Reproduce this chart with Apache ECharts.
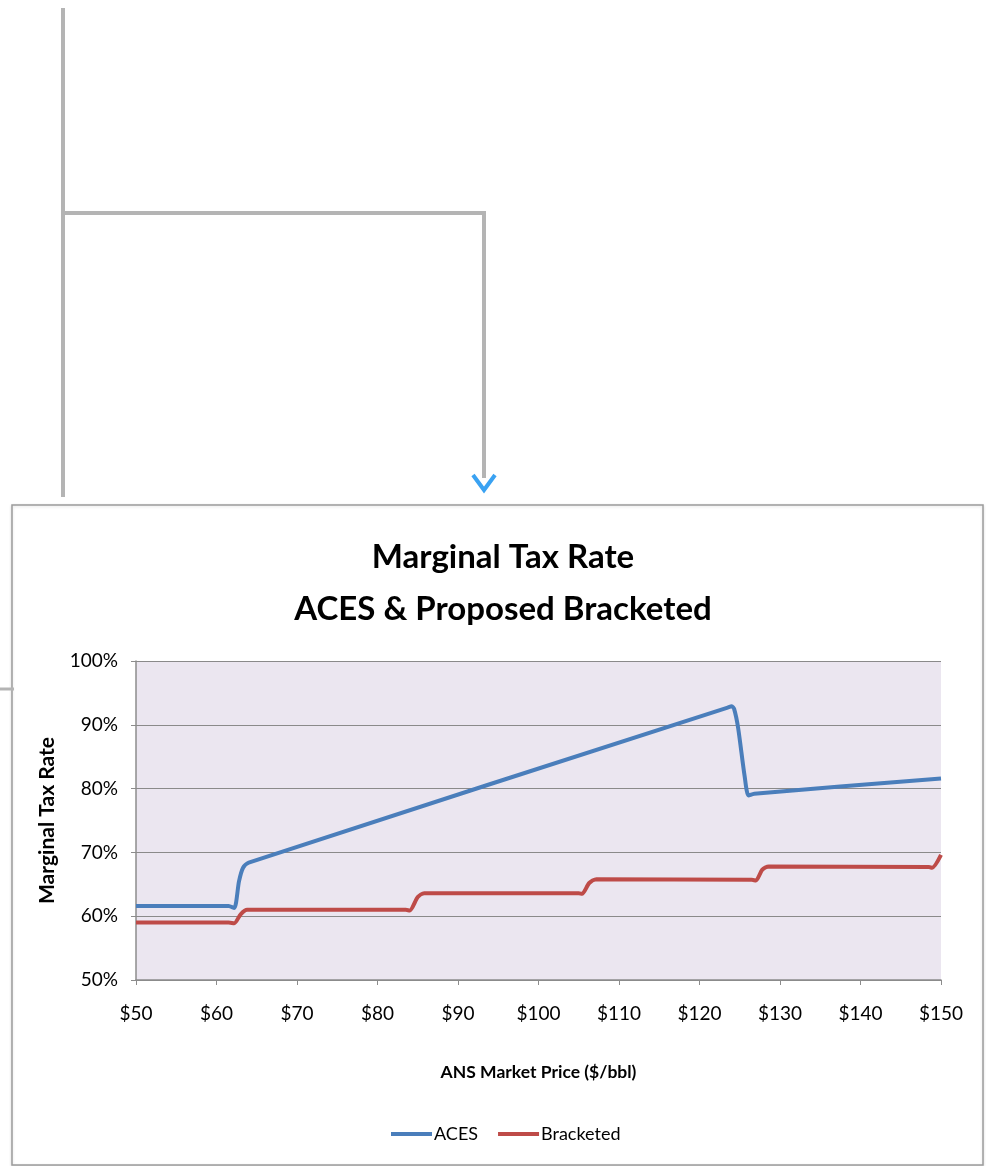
<!DOCTYPE html>
<html>
<head>
<meta charset="utf-8">
<script src="https://cdn.jsdelivr.net/npm/echarts@6/dist/echarts.min.js"></script>
<style>
html,body{margin:0;padding:0;background:#fff;}
#chart{width:988px;height:1166px;}
</style>
</head>
<body>
<div id="chart"></div>
<script>
// ---- data ----
const seriesNames = ['ACES', 'Bracketed'];
const xTicks = [50, 60, 70, 80, 90, 100, 110, 120, 130, 140, 150];
const yTicks = [50, 60, 70, 80, 90, 100];

const acesPrice = [50, 61.5, 62.2, 62.8, 63.3, 64.0, 123.5, 124.0, 124.3, 124.8, 125.6, 126.1, 126.8, 150];
const acesRate  = [61.6, 61.6, 61.3, 65.5, 67.6, 68.4, 92.7, 92.9, 92.5, 89.5, 82.0, 78.9, 79.2, 81.6];

const brPrice = [50, 61.5, 62.2, 63.0, 63.8, 83.5, 84.0, 85.0, 85.8, 105.0, 105.4, 106.3, 107.2, 126.5, 127.0, 127.8, 128.6, 148.5, 148.9, 150];
const brRate  = [59.0, 59.0, 58.9, 60.3, 61.0, 61.0, 60.9, 63.0, 63.6, 63.6, 63.5, 65.2, 65.8, 65.7, 65.6, 67.3, 67.8, 67.7, 67.6, 69.6];

const zip = (xs, ys) => xs.map((x, i) => [x, ys[i]]);

const FONT = "Lato, 'Open Sans', sans-serif";

const chart = echarts.init(document.getElementById('chart'), null, {renderer: 'canvas'});
chart.setOption({
  backgroundColor: '#ffffff',
  animation: false,
  title: {
    text: 'Marginal Tax Rate\nACES & Proposed Bracketed',
    left: 498, top: 526, textAlign: 'center',
    textStyle: {fontFamily: FONT, fontWeight: 'bold', fontSize: 33, lineHeight: 52, color: '#000'}
  },
  legend: {
    data: seriesNames,
    bottom: 18, left: 386,
    icon: 'rect', itemWidth: 41, itemHeight: 4, itemGap: 20,
    textStyle: {fontFamily: FONT, fontSize: 18, color: '#000', padding: [0, 0, 0, -3]}
  },
  grid: {
    left: 136, right: 47, top: 661, bottom: 186,
    show: true, backgroundColor: '#ebe6f0', borderWidth: 0
  },
  xAxis: {
    type: 'value', min: 50, max: 150, interval: 10,
    name: 'ANS Market Price ($/bbl)', nameLocation: 'middle', nameGap: 83,
    nameTextStyle: {fontFamily: FONT, fontWeight: 'bold', fontSize: 17.5, color: '#000'},
    axisLine: {show: true, lineStyle: {color: '#8c8c8c', width: 1.5}},
    axisTick: {show: true, length: 5, lineStyle: {color: '#8c8c8c'}},
    axisLabel: {fontFamily: FONT, fontSize: 19, color: '#000', margin: 24, formatter: v => '$' + v},
    splitLine: {show: false}
  },
  yAxis: {
    type: 'value', min: 50, max: 100, interval: 10,
    name: 'Marginal Tax Rate', nameLocation: 'middle', nameGap: 78, nameRotate: 90,
    nameTextStyle: {fontFamily: FONT, fontWeight: 'bold', fontSize: 21, color: '#000'},
    axisLine: {show: true, lineStyle: {color: '#8c8c8c', width: 1.5}},
    axisTick: {show: true, length: 5, lineStyle: {color: '#8c8c8c'}},
    axisLabel: {fontFamily: FONT, fontSize: 19, color: '#000', margin: 18, formatter: v => v + '%'},
    splitLine: {show: true, lineStyle: {color: '#8a8a8a', width: 1.2}}
  },
  series: [
    {
      name: seriesNames[0], type: 'line', data: zip(acesPrice, acesRate),
      showSymbol: false, smooth: 0.25,
      lineStyle: {color: '#4a7ebb', width: 4}, itemStyle: {color: '#4a7ebb'}
    },
    {
      name: seriesNames[1], type: 'line', data: zip(brPrice, brRate),
      showSymbol: false, smooth: 0.25,
      lineStyle: {color: '#be4b48', width: 4}, itemStyle: {color: '#be4b48'}
    }
  ],
  graphic: [
    // decorative connector lines above the chart box
    {type: 'polyline', z: 0, shape: {points: [[63, 8], [63, 497]]}, style: {stroke: '#b4b4b4', lineWidth: 4, fill: null}},
    {type: 'polyline', z: 0, shape: {points: [[63, 213], [484, 213], [484, 478]]}, style: {stroke: '#b4b4b4', lineWidth: 4, fill: null}},
    {type: 'polyline', z: 0, shape: {points: [[473, 475], [484, 490], [495, 475]]}, style: {stroke: '#3aa2f2', lineWidth: 4, fill: null, lineJoin: 'miter'}},
    {type: 'line', z: 0, shape: {x1: 0, y1: 689, x2: 14, y2: 689}, style: {stroke: '#b4b4b4', lineWidth: 3}},
    // chart box frame
    {type: 'rect', z: -1, shape: {x: 12, y: 505, width: 971, height: 660},
     style: {stroke: '#9c9c9c', lineWidth: 1.5, fill: '#ffffff', shadowColor: 'rgba(0,0,0,0.12)', shadowBlur: 3, shadowOffsetY: 1}}
  ]
});
</script>
</body>
</html>
